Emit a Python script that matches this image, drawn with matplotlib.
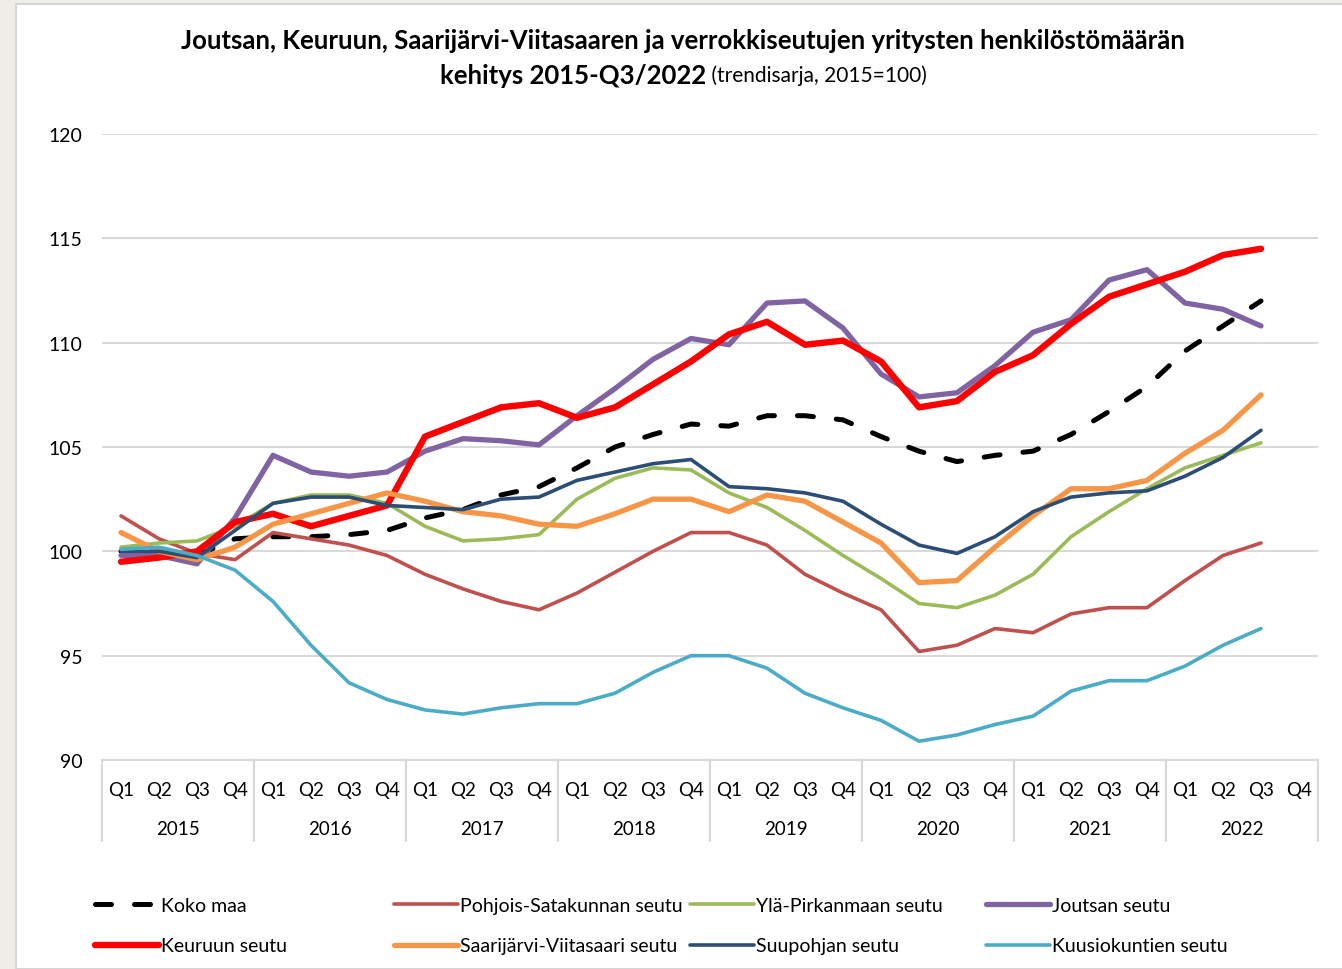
import matplotlib
matplotlib.use("Agg")
import matplotlib.pyplot as plt
from matplotlib.patches import Rectangle
import matplotlib.transforms as mtransforms

plt.rcParams['font.family'] = ['Lato', 'DejaVu Sans']

years = ['2015', '2016', '2017', '2018', '2019', '2020', '2021', '2022']
quarters = ['Q1', 'Q2', 'Q3', 'Q4']

koko_maa = [100.0, 100.1, 99.8, 100.6, 100.7, 100.7, 100.8, 101.0, 101.6, 102.0, 102.7, 103.1,
            104.0, 105.0, 105.6, 106.1, 106.0, 106.5, 106.5, 106.3, 105.5, 104.8, 104.3, 104.6,
            104.8, 105.6, 106.7, 107.9, 109.6, 110.8, 112.0]
pohjois_satakunta = [101.7, 100.6, 99.9, 99.6, 100.9, 100.6, 100.3, 99.8, 98.9, 98.2, 97.6, 97.2,
                     98.0, 99.0, 100.0, 100.9, 100.9, 100.3, 98.9, 98.0, 97.2, 95.2, 95.5, 96.3,
                     96.1, 97.0, 97.3, 97.3, 98.6, 99.8, 100.4]
yla_pirkanmaa = [100.2, 100.4, 100.5, 101.2, 102.3, 102.7, 102.7, 102.3, 101.2, 100.5, 100.6, 100.8,
                 102.5, 103.5, 104.0, 103.9, 102.8, 102.1, 101.0, 99.8, 98.7, 97.5, 97.3, 97.9,
                 98.9, 100.7, 101.9, 103.0, 104.0, 104.6, 105.2]
joutsa = [99.8, 99.8, 99.4, 101.6, 104.6, 103.8, 103.6, 103.8, 104.8, 105.4, 105.3, 105.1,
          106.5, 107.8, 109.2, 110.2, 109.9, 111.9, 112.0, 110.7, 108.5, 107.4, 107.6, 108.9,
          110.5, 111.1, 113.0, 113.5, 111.9, 111.6, 110.8]
keuruu = [99.5, 99.7, 100.0, 101.4, 101.8, 101.2, 101.7, 102.2, 105.5, 106.2, 106.9, 107.1,
          106.4, 106.9, 108.0, 109.1, 110.4, 111.0, 109.9, 110.1, 109.1, 106.9, 107.2, 108.6,
          109.4, 110.9, 112.2, 112.8, 113.4, 114.2, 114.5]
saarijarvi = [100.9, 100.0, 99.6, 100.2, 101.3, 101.8, 102.3, 102.8, 102.4, 101.9, 101.7, 101.3,
              101.2, 101.8, 102.5, 102.5, 101.9, 102.7, 102.4, 101.4, 100.4, 98.5, 98.6, 100.2,
              101.7, 103.0, 103.0, 103.4, 104.7, 105.8, 107.5]
suupohja = [100.0, 100.0, 99.7, 101.0, 102.3, 102.6, 102.6, 102.2, 102.1, 102.0, 102.5, 102.6,
            103.4, 103.8, 104.2, 104.4, 103.1, 103.0, 102.8, 102.4, 101.3, 100.3, 99.9, 100.7,
            101.9, 102.6, 102.8, 102.9, 103.6, 104.5, 105.8]
kuusiokunnat = [100.1, 100.2, 99.8, 99.1, 97.6, 95.5, 93.7, 92.9, 92.4, 92.2, 92.5, 92.7,
                92.7, 93.2, 94.2, 95.0, 95.0, 94.4, 93.2, 92.5, 91.9, 90.9, 91.2, 91.7,
                92.1, 93.3, 93.8, 93.8, 94.5, 95.5, 96.3]

series = [
    ('Koko maa', koko_maa, '#000000', 3.6, True),
    ('Pohjois-Satakunnan seutu', pohjois_satakunta, '#C0504D', 2.6, False),
    ('Ylä-Pirkanmaan seutu', yla_pirkanmaa, '#9BBB59', 2.6, False),
    ('Joutsan seutu', joutsa, '#8064A2', 3.8, False),
    ('Keuruun seutu', keuruu, '#FF0000', 4.6, False),
    ('Saarijärvi-Viitasaari seutu', saarijarvi, '#F79646', 3.8, False),
    ('Suupohjan seutu', suupohja, '#2C4D75', 2.6, False),
    ('Kuusiokuntien seutu', kuusiokunnat, '#4BACC6', 2.6, False),
]

W, H = 1342, 970
fig = plt.figure(figsize=(W / 100, H / 100), dpi=100)
fig.patch.set_facecolor('#F0EDE8')
panel = Rectangle((16 / W, 0), 1.0, 1 - 5 / H, transform=fig.transFigure,
                  facecolor='white', edgecolor='#D6D6D6', linewidth=1.5, zorder=0)
fig.add_artist(panel)

ax = fig.add_axes([102 / W, 1 - 761 / H, (1318 - 102) / W, (761 - 135) / H])
ax.set_facecolor('none')

n_q = len(years) * len(quarters)
ax.set_xlim(-0.5, n_q - 0.5)
ax.set_ylim(90, 120)
ax.set_yticks(range(90, 121, 5))
ax.yaxis.grid(True, color='#D9D9D9', linewidth=1.5)
ax.set_axisbelow(True)
for s in ['left', 'right', 'top']:
    ax.spines[s].set_visible(False)
ax.spines['bottom'].set_color('#D9D9D9')
ax.spines['bottom'].set_linewidth(1.5)
ax.tick_params(axis='y', length=0, pad=14, labelsize=14)
ax.tick_params(axis='x', length=0, pad=15, labelsize=13.5)

xlabels = [q for y in years for q in quarters]
ax.set_xticks(range(n_q))
ax.set_xticklabels(xlabels)

trans = mtransforms.blended_transform_factory(ax.transData, ax.transAxes)
for k in range(len(years) + 1):
    ax.plot([k * 4 - 0.5, k * 4 - 0.5], [0, -81 / 626], transform=trans, color='#D9D9D9',
            linewidth=1.5, clip_on=False)
for k, yr in enumerate(years):
    ax.text(k * 4 + 1.5, -69 / 626, yr, transform=trans, ha='center', va='center', fontsize=13.5)

handles = {}
for name, vals, col, lw, dashed in series:
    xs = list(range(len(vals)))
    if dashed:
        ln, = ax.plot(xs, vals, color=col, linewidth=lw, dashes=(3.2, 4.6),
                      dash_capstyle='round', label=name, zorder=3)
    else:
        ln, = ax.plot(xs, vals, color=col, linewidth=lw, solid_capstyle='round',
                      solid_joinstyle='round', label=name, zorder=3)
    handles[name] = ln

order = [('Koko maa', 'Keuruun seutu'),
         ('Pohjois-Satakunnan seutu', 'Saarijärvi-Viitasaari seutu'),
         ('Ylä-Pirkanmaan seutu', 'Suupohjan seutu'),
         ('Joutsan seutu', 'Kuusiokuntien seutu')]
col_x = [95, 394, 690, 986]
for cx, pair in zip(col_x, order):
    fig.legend(handles=[handles[p] for p in pair], labels=list(pair),
               loc='upper left', bbox_to_anchor=(cx / W, 1 - 898 / H),
               frameon=False, fontsize=14, handlelength=3.3, handletextpad=0.1,
               labelspacing=1.2, borderaxespad=0, borderpad=0)

fig.text(683 / W, 1 - 41 / H,
         'Joutsan, Keuruun, Saarijärvi-Viitasaaren ja verrokkiseutujen yritysten henkilöstömäärän',
         ha='center', va='center', fontsize=18.5, fontweight='bold')
t1 = fig.text(0, 1 - 76 / H, 'kehitys 2015-Q3/2022', ha='left', va='center',
              fontsize=18.5, fontweight='bold')
t2 = fig.text(0, 1 - 76 / H, ' (trendisarja, 2015=100)', ha='left', va='center', fontsize=15)
fig.canvas.draw()
r = fig.canvas.get_renderer()
w1 = t1.get_window_extent(r).width
w2 = t2.get_window_extent(r).width
start = 683 - (w1 + w2) / 2
t1.set_x(start / W)
t2.set_x((start + w1) / W)

fig.savefig('out.png', dpi=100, facecolor=fig.get_facecolor())
